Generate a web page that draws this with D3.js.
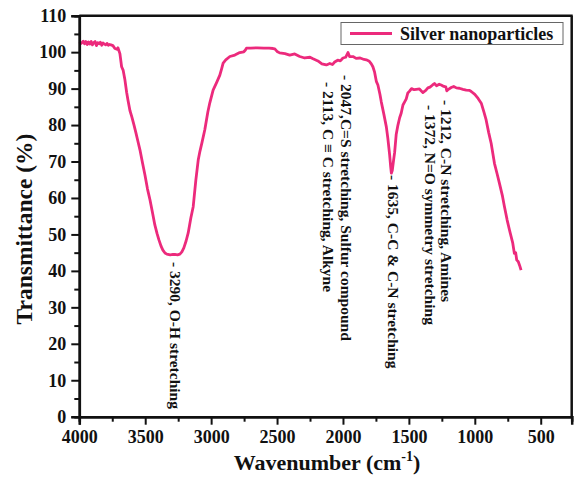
<!DOCTYPE html>
<html><head><meta charset="utf-8">
<script src="https://cdn.jsdelivr.net/npm/d3@7"></script>
<style>body{margin:0;background:#fff}svg{display:block}text{font-family:"Liberation Serif","Times New Roman",serif;font-weight:bold;fill:#111}</style>
</head><body><svg id="c" width="578" height="477"></svg>
<script>
const wavenumber = [4000,3985,3970,3960,3950,3940,3930,3920,3910,3900,3890,3880,3870,3860,3850,3840,3830,3820,3810,3800,3790,3780,3770,3760,3745,3730,3715,3707,3692,3679,3667,3654,3641,3631,3616,3601,3585,3570,3555,3540,3520,3502,3483,3464,3445,3427,3410,3396,3380,3366,3350,3336,3310,3290,3275,3255,3237,3222,3207,3190,3174,3154,3136,3116,3098,3085,3070,3048,3025,3010,2985,2957,2934,2920,2909,2889,2858,2820,2783,2752,2740,2732,2700,2650,2600,2560,2530,2517,2500,2480,2440,2404,2366,2328,2290,2250,2227,2190,2160,2126,2100,2080,2063,2040,2020,2000,1980,1962,1950,1924,1900,1870,1840,1823,1800,1785,1773,1760,1747,1735,1720,1709,1690,1671,1660,1646,1638,1633,1626,1616,1608,1596,1583,1570,1558,1545,1530,1520,1508,1495,1480,1460,1444,1420,1394,1372,1356,1340,1320,1306,1290,1270,1255,1235,1220,1212,1200,1179,1160,1140,1117,1090,1065,1040,1027,1000,975,951,930,914,895,876,851,830,813,790,775,755,737,712,700,690,682,670,660,649];
const transmittance = [102.8,102.4,103.0,102.3,102.9,102.1,102.8,102.2,102.9,102.0,102.6,102.9,101.8,102.6,102.3,102.7,101.9,102.5,102.2,102.0,102.4,101.9,102.1,102.0,101.8,101.0,100.8,101.2,99.6,96.0,95.0,92.4,89.0,86.9,84.0,82.2,80.0,77.8,75.5,73.2,69.5,66.3,62.5,59.5,56.0,52.6,50.2,48.5,46.8,45.7,44.9,44.6,44.4,44.5,44.5,44.4,44.6,45.2,46.3,48.2,50.4,54.5,57.6,64.9,70.4,72.8,75.1,78.7,83.6,86.1,89.6,91.8,93.7,95.5,97.0,97.9,98.8,99.2,99.9,100.1,100.6,101.1,101.1,101.2,101.1,101.1,101.0,100.9,100.2,99.8,99.6,99.2,99.5,98.8,98.4,98.6,98.2,97.6,96.8,96.5,96.9,96.6,97.3,97.8,97.6,98.4,98.6,99.9,98.8,98.8,98.3,98.4,98.0,97.9,97.5,96.8,96.0,94.5,92.0,91.0,88.5,86.3,83.0,79.5,76.5,71.8,68.5,66.8,67.5,70.4,72.5,77.5,80.0,82.0,83.3,85.5,86.5,87.2,88.8,89.3,90.0,89.7,89.8,89.9,88.9,89.5,90.2,90.4,91.0,91.4,90.8,91.2,91.0,90.6,90.5,89.4,89.8,90.3,90.6,90.2,90.1,89.8,89.6,89.5,89.2,88.4,87.3,86.0,83.5,81.4,78.0,75.0,69.5,66.5,64.0,60.5,57.6,54.0,51.2,47.6,44.8,45.0,43.0,42.5,41.5,40.2];
const xTicks = [4000,3500,3000,2500,2000,1500,1000,500];
const xMinor = [3750,3250,2750,2250,1750,1250,750];
const yTicks = [0,10,20,30,40,50,60,70,80,90,100,110];
const yMinor = [5,15,25,35,45,55,65,75,85,95,105];
const seriesName = "Silver nanoparticles";
const annotations = [
  {wn:3290, text:"- 3290, O-H stretching"},
  {wn:2047, text:"- 2047,C=S stretching, Sulfur compound"},
  {wn:2113, text:"- 2113, C \u2261 C stretching, Alkyne"},
  {wn:1635, text:"- 1635, C-C & C-N stretching"},
  {wn:1212, text:"- 1212, C-N stretching, Amines"},
  {wn:1372, text:"- 1372, N=O symmetry stretching"}
];
// layout positions for annotation labels (screen)
const annPos = [[175,262],[346.5,75],[328.5,82],[393,175],[446.5,100],[430,105]];

const svg = d3.select("#c");
const L=79.3, R=571.7, T=15.7, B=416.7;
const x = d3.scaleLinear().domain([4000,265]).range([L,R]);
const y = d3.scaleLinear().domain([0,110]).range([B,T]);
const color = "#ec2a7c";

// line
const data = wavenumber.map((w,i)=>[w,transmittance[i]]);
svg.append("path").datum(data)
  .attr("fill","none").attr("stroke",color).attr("stroke-width",2.8)
  .attr("stroke-linejoin","round")
  .attr("d", d3.line().x(d=>x(d[0])).y(d=>y(d[1])));

// axes
const ax = svg.append("g").attr("transform",`translate(0,${B})`)
  .call(d3.axisBottom(x).tickValues(xTicks).tickSize(8).tickPadding(6).tickFormat(d3.format("d")));
const axm = svg.append("g").attr("transform",`translate(0,${B})`)
  .call(d3.axisBottom(x).tickValues(xMinor).tickSize(5).tickFormat(""));
const ay = svg.append("g").attr("transform",`translate(${L},0)`)
  .call(d3.axisLeft(y).tickValues(yTicks).tickSize(8).tickPadding(5));
const aym = svg.append("g").attr("transform",`translate(${L},0)`)
  .call(d3.axisLeft(y).tickValues(yMinor).tickSize(5).tickFormat(""));
[ax,axm,ay,aym].forEach(g=>{
  g.selectAll(".domain").attr("stroke","#111").attr("stroke-width",2.5);
  g.selectAll(".tick line").attr("stroke","#111").attr("stroke-width",2);
  g.selectAll("text").style("font-family",'"Liberation Serif",serif').style("font-weight","bold").style("font-size","18px").attr("fill","#111");
});
// frame top & right
svg.append("line").attr("x1",L).attr("x2",R+1).attr("y1",T).attr("y2",T).attr("stroke","#111").attr("stroke-width",2.5);
svg.append("line").attr("x1",R).attr("x2",R).attr("y1",T).attr("y2",B).attr("stroke","#111").attr("stroke-width",2.5);

// titles
svg.append("text").attr("transform","translate(24,229) rotate(-90)")
  .attr("text-anchor","middle").attr("dominant-baseline","central")
  .style("font-size","23.5px").text("Transmittance (%)");
const xt = svg.append("text").attr("x",327).attr("y",470).attr("text-anchor","middle").style("font-size","22px");
xt.append("tspan").text("Wavenumber (cm");
xt.append("tspan").attr("dy",-9).style("font-size","14px").text("-1");
xt.append("tspan").attr("dy",9).text(")");

// annotations
annotations.forEach((a,i)=>{
  svg.append("text").attr("transform",`translate(${annPos[i][0]},${annPos[i][1]}) rotate(90)`)
    .attr("dominant-baseline","central").style("font-size","15.5px").text(a.text);
});

// legend
const lg = svg.append("g");
lg.append("rect").attr("x",341).attr("y",22.5).attr("width",222).attr("height",22)
  .attr("fill","#fff").attr("stroke","#666").attr("stroke-width",1);
lg.append("line").attr("x1",350).attr("x2",392).attr("y1",33.5).attr("y2",33.5).attr("stroke",color).attr("stroke-width",2.8);
lg.append("text").attr("x",400).attr("y",33.5).attr("dominant-baseline","central").style("font-size","18px").text(seriesName);
</script></body></html>
